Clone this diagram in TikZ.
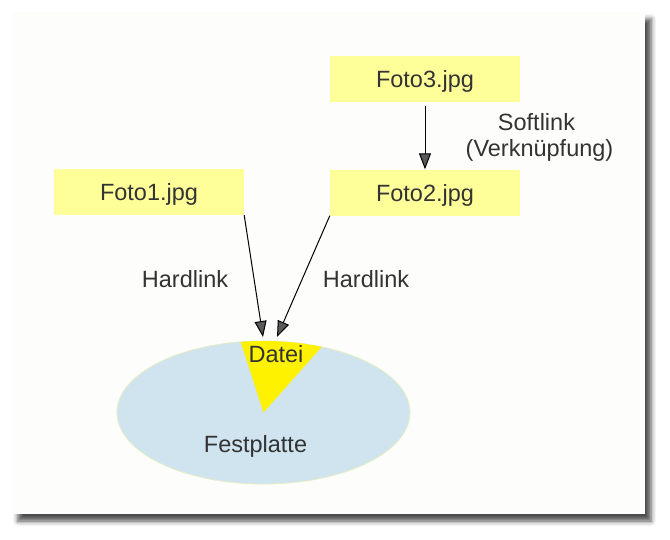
\documentclass[tikz,border=0pt]{standalone}
\usepackage{fontspec}
\setmainfont{Liberation Sans}
\usetikzlibrary{arrows.meta,shapes.geometric,shadows.blur}
\definecolor{txt}{HTML}{333333}
\definecolor{boxfill}{HTML}{FFFF99}
\definecolor{disk}{HTML}{D0E4EF}
\definecolor{diskline}{HTML}{E4EEC4}
\definecolor{panel}{HTML}{FDFDFB}
\begin{document}
\begin{tikzpicture}[x=1pt,y=1pt,
  every node/.style={font=\fontsize{23.5}{28}\selectfont, text=txt},
  filebox/.style={rectangle, fill=boxfill, minimum width=190pt, minimum height=46pt, inner sep=0pt, text height=17pt, text depth=0pt},
  lbl/.style={anchor=base, inner sep=0pt},
  link/.style={line width=1pt, -{Triangle[length=16pt,width=12pt]}}]
\useasboundingbox (0,0) rectangle (670,-539);
\fill[panel, blur shadow={shadow xshift=6pt, shadow yshift=-7pt, shadow blur radius=5pt, shadow opacity=70}] (12,-12) rectangle (645,-514);
% disk
\node[ellipse, fill=disk, draw=diskline, line width=0.8pt, minimum width=293pt, minimum height=143pt, inner sep=0pt] (E) at (263.5,-412.5) {};
\fill[yellow] (E.center) -- ++(98.95:146.5 and 71.5) arc[start angle=98.95, end angle=66.6, x radius=146.5, y radius=71.5] -- cycle;
\node[lbl] (datei) at (276,-362.7) {Datei};
\node[lbl] (fest) at (255.5,-452.7) {Festplatte};
% files
\node[filebox] (f1) at (149,-192) {Foto1.jpg};
\node[filebox] (f3) at (425,-79) {Foto3.jpg};
\node[filebox] (f2) at (425,-192.5) {Foto2.jpg};
% labels
\node[lbl] (soft) at (536.5,-130.7) {Softlink};
\node[lbl] (verk) at (539.5,-156) {(Verknüpfung)};
\node[lbl] (h1) at (185,-287.7) {Hardlink};
\node[lbl] (h2) at (366,-287.7) {Hardlink};
% connectors
\coordinate (t1) at (263,-337);
\coordinate (t2) at (277,-337);
\coordinate (s3) at (425,-106);
\draw[link] (f1.south east) -- (t1);
\draw[link] (f2.south west) -- (t2);
\draw[link] (s3) -- (f2.north -| s3);
\end{tikzpicture}
\end{document}
